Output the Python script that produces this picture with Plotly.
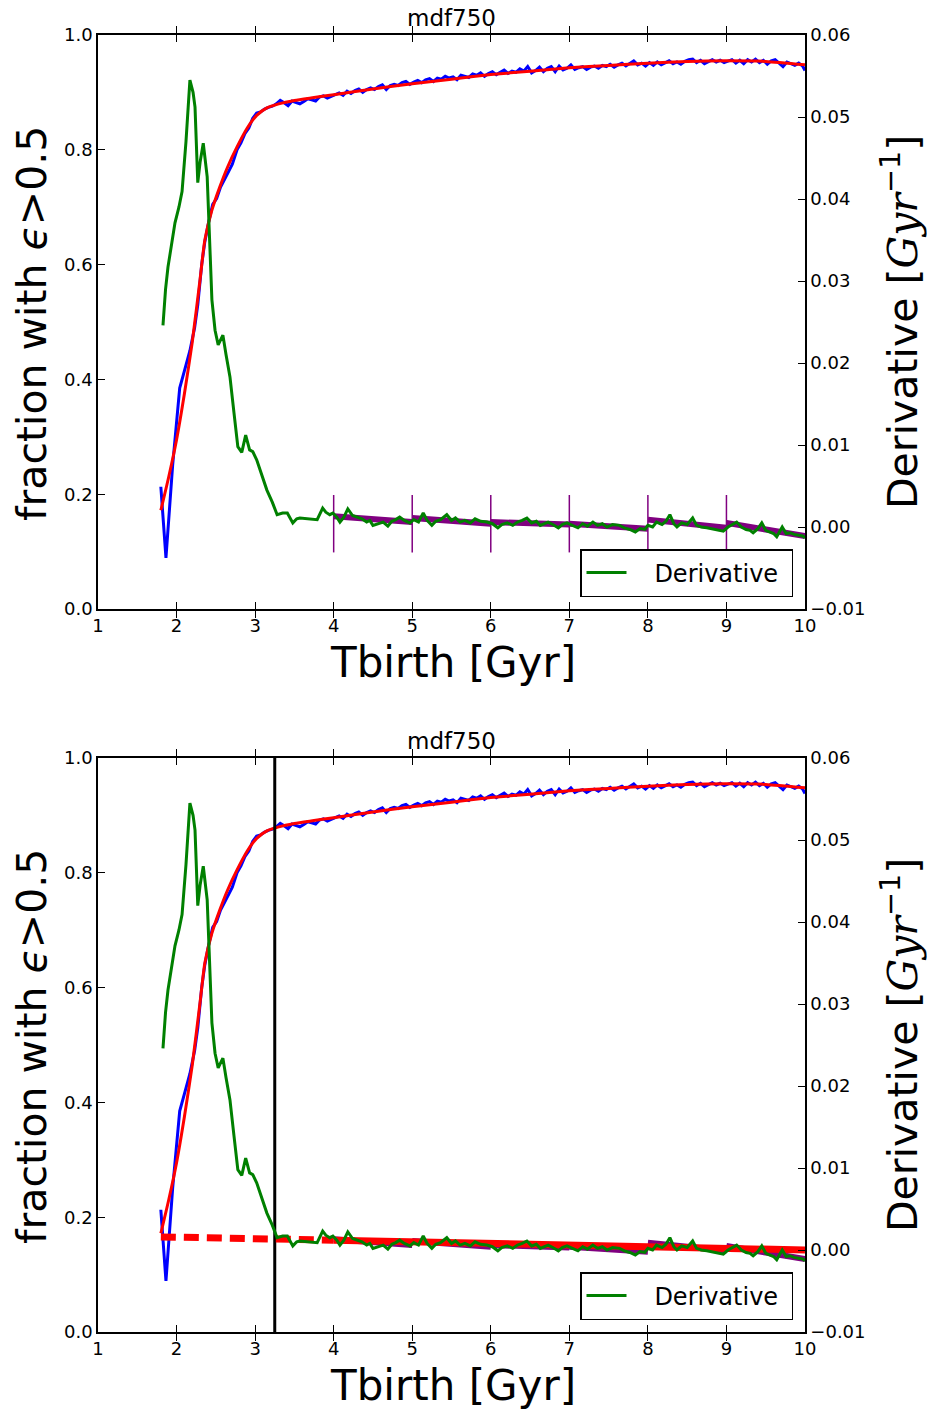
import plotly.graph_objects as go

# ---------------- data ----------------
frac_x = [1.80, 1.865, 1.95, 2.04, 2.10, 2.17, 2.23, 2.27, 2.32, 2.36, 2.41, 2.46, 2.51, 2.56, 2.61,
          2.66, 2.71, 2.77, 2.82, 2.87, 2.92, 2.97, 3.02, 3.07, 3.12, 3.17, 3.22, 3.27, 3.32, 3.37,
          3.42, 3.47, 3.52, 3.57, 3.62, 3.67, 3.72, 3.77, 3.82, 3.87, 3.92, 3.97, 4.02, 4.07, 4.12,
          4.17, 4.22, 4.27, 4.32, 4.37, 4.42, 4.47, 4.52, 4.57, 4.62, 4.67, 4.72, 4.77, 4.82, 4.87,
          4.92, 4.97, 5.02, 5.07, 5.12, 5.17, 5.22, 5.27, 5.32, 5.37, 5.42, 5.47, 5.52, 5.57, 5.62,
          5.67, 5.72, 5.77, 5.82, 5.87, 5.92, 5.97, 6.02, 6.07, 6.12, 6.17, 6.22, 6.27, 6.32, 6.37,
          6.42, 6.47, 6.52, 6.57, 6.62, 6.67, 6.72, 6.77, 6.82, 6.87, 6.92, 6.97, 7.02, 7.07, 7.12,
          7.17, 7.22, 7.27, 7.32, 7.37, 7.42, 7.47, 7.52, 7.57, 7.62, 7.67, 7.72, 7.77, 7.82, 7.87,
          7.92, 7.97, 8.02, 8.07, 8.12, 8.17, 8.22, 8.27, 8.32, 8.37, 8.42, 8.47, 8.52, 8.57, 8.62,
          8.67, 8.72, 8.77, 8.82, 8.87, 8.92, 8.97, 9.02, 9.07, 9.12, 9.17, 9.22, 9.27, 9.32, 9.37,
          9.42, 9.47, 9.52, 9.57, 9.62, 9.67, 9.72, 9.77, 9.82, 9.87, 9.92, 9.97, 10.0]
frac_y = [0.213, 0.089, 0.250, 0.385, 0.415, 0.450, 0.490, 0.530, 0.600, 0.640, 0.675, 0.705, 0.715, 0.735, 0.748,
          0.762, 0.775, 0.800, 0.812, 0.828, 0.838, 0.855, 0.864, 0.866, 0.871, 0.874, 0.876, 0.880, 0.886, 0.882,
          0.877, 0.885, 0.883, 0.880, 0.884, 0.889, 0.887, 0.885, 0.892, 0.894, 0.890, 0.893, 0.897, 0.899, 0.895,
          0.902, 0.898, 0.903, 0.906, 0.900, 0.905, 0.908, 0.905, 0.910, 0.913, 0.905, 0.912, 0.914, 0.912, 0.917,
          0.919, 0.914, 0.918, 0.921, 0.917, 0.922, 0.924, 0.919, 0.925, 0.923, 0.928, 0.925, 0.927, 0.922, 0.930,
          0.928, 0.926, 0.932, 0.930, 0.934, 0.928, 0.933, 0.936, 0.931, 0.935, 0.939, 0.933, 0.937, 0.935, 0.941,
          0.937, 0.945, 0.934, 0.938, 0.944, 0.936, 0.942, 0.945, 0.936, 0.946, 0.939, 0.942, 0.948, 0.940, 0.943,
          0.945, 0.940, 0.944, 0.946, 0.942, 0.947, 0.945, 0.949, 0.944, 0.948, 0.951, 0.946, 0.950, 0.955, 0.948,
          0.951, 0.946, 0.952, 0.947, 0.953, 0.948, 0.951, 0.955, 0.950, 0.953, 0.949, 0.954, 0.957, 0.958, 0.952,
          0.956, 0.950, 0.954, 0.957, 0.953, 0.956, 0.952, 0.955, 0.957, 0.951, 0.956, 0.950, 0.957, 0.953, 0.958,
          0.952, 0.956, 0.949, 0.955, 0.957, 0.951, 0.945, 0.953, 0.950, 0.947, 0.951, 0.946, 0.938]

fit_x = [1.8, 1.9, 2.0, 2.1, 2.2, 2.3, 2.36, 2.45, 2.55, 2.65, 2.77, 2.9, 3.02, 3.15, 3.3,
         3.5, 3.75, 4.0, 4.5, 5.0, 5.5, 6.0, 6.5, 7.0, 7.5, 8.0, 8.5, 9.0, 9.5, 10.0]
fit_y = [0.172, 0.230, 0.295, 0.375, 0.465, 0.575, 0.643, 0.695, 0.735, 0.770, 0.805, 0.838, 0.860, 0.873, 0.880,
         0.886, 0.891, 0.896, 0.906, 0.915, 0.923, 0.931, 0.937, 0.943, 0.947, 0.951, 0.954, 0.955, 0.954, 0.948]

deriv_x = [1.827, 1.86, 1.891, 1.94, 1.98, 2.03, 2.07, 2.12, 2.17, 2.21, 2.235, 2.27, 2.30, 2.34, 2.39,
           2.45, 2.49, 2.53, 2.59, 2.63, 2.68, 2.73, 2.78, 2.83, 2.88, 2.93, 2.97, 3.02, 3.08, 3.15,
           3.22, 3.28, 3.35, 3.41, 3.48, 3.53, 3.57, 3.65, 3.72, 3.79, 3.86, 3.90, 3.95, 3.99, 4.04,
           4.08, 4.13, 4.18, 4.24, 4.31, 4.36, 4.42, 4.46, 4.50, 4.56, 4.63, 4.69, 4.74, 4.79, 4.84,
           4.90, 4.97, 5.02, 5.08, 5.14, 5.19, 5.25, 5.30, 5.36, 5.44, 5.50, 5.55, 5.61, 5.67, 5.74,
           5.80, 5.87, 5.95, 6.02, 6.09, 6.14, 6.21, 6.28, 6.34, 6.40, 6.46, 6.52, 6.58, 6.63, 6.68,
           6.73, 6.79, 6.86, 6.91, 6.97, 7.04, 7.11, 7.17, 7.23, 7.30, 7.36, 7.42, 7.48, 7.55, 7.64,
           7.70, 7.77, 7.84, 7.90, 7.96, 8.00, 8.06, 8.11, 8.18, 8.23, 8.28, 8.33, 8.37, 8.43, 8.50,
           8.57, 8.62, 8.68, 8.75, 8.81, 8.88, 8.96, 9.02, 9.08, 9.13, 9.19, 9.25, 9.30, 9.34, 9.40,
           9.45, 9.50, 9.56, 9.60, 9.64, 9.71, 9.76, 9.81, 9.86, 9.92, 9.97, 10.0]
deriv_y = [0.0246, 0.0290, 0.0317, 0.0345, 0.0371, 0.0390, 0.0409, 0.0470, 0.0545, 0.0530, 0.0512, 0.0420, 0.0445, 0.0468, 0.0427,
           0.0277, 0.0240, 0.0222, 0.0234, 0.0210, 0.0183, 0.0140, 0.0098, 0.0091, 0.0112, 0.0094, 0.0092, 0.0082, 0.0065, 0.0045,
           0.0030, 0.0015, 0.0017, 0.0017, 0.0005, 0.0010, 0.0011, 0.0010, 0.0010, 0.0009, 0.0023, 0.0018, 0.0015, 0.0017, 0.0012,
           0.0006, 0.0012, 0.0022, 0.0014, 0.0012, 0.0010, 0.0006, 0.0008, 0.0002, 0.0004, 0.0006, 0.0001, 0.0007, 0.0009, 0.0012,
           0.0008, 0.0005, 0.0009, 0.0006, 0.0017, 0.0008, 0.0002, 0.0007, 0.0009, 0.0015, 0.0008, 0.0011, 0.0006, 0.0008, 0.0005,
           0.0010, 0.0007, 0.0006, 0.0004, -0.0001, 0.0003, 0.0005, 0.0002, 0.0006, 0.0008, 0.0011, 0.0005, 0.0007, 0.0002, 0.0004,
           0.0006, 0.0003, -0.0001, 0.0003, 0.0005, 0.0002, -0.0001, 0.0004, 0.0001, 0.0006, 0.0002, 0.0004, 0.0000, 0.0003, 0.0002,
           -0.0001, -0.0003, -0.0006, -0.0002, -0.0003, 0.0002, 0.0000, 0.0006, 0.0003, 0.0007, 0.0015, 0.0004, 0.0000, 0.0005, 0.0003,
           0.0011, 0.0002, 0.0000, -0.0001, -0.0002, -0.0003, -0.0005, 0.0000, 0.0003, 0.0006, 0.0000, -0.0003, -0.0004, -0.0007, -0.0002,
           0.0005, -0.0004, -0.0006, -0.0008, -0.0012, 0.0000, -0.0008, -0.0007, -0.0009, -0.0010, -0.0011, -0.0013]

# binned linear fits of the derivative (purple), one segment per bin
bin_start = [4, 5, 6, 7, 8, 9]
bin_end = [5, 6, 7, 8, 9, 10]
bin_left_val = [0.0013, 0.0011, 0.0006, 0.0004, 0.0009, 0.0005]
bin_right_val = [0.0006, 0.0004, 0.0003, -0.0002, -0.0001, -0.0011]
err_center = [0.0004, 0.0004, 0.0004, 0.0004, 0.0004, 0.0004]
err_size = [0.0035, 0.0035, 0.0035, 0.0035, 0.0035, 0.0035]

# linear fit of the plateau, extrapolated back (bottom panel)
extrap_x = [1.8, 4.0]
extrap_y = [0.0016, 0.0012]
plateau_x = [4.0, 10.0]
plateau_y = [0.0012, 0.0000]

t_transition = 3.25

x_ticks = [1, 2, 3, 4, 5, 6, 7, 8, 9, 10]
left_ticks = [0.0, 0.2, 0.4, 0.6, 0.8, 1.0]
right_ticks = [-0.01, 0.0, 0.01, 0.02, 0.03, 0.04, 0.05, 0.06]

# ---------------- styling ----------------
W, H = 927, 1414
FONT = "DejaVu Sans"
BLUE = "#0000ff"
RED = "#ff0000"
GREEN = "#008000"
PURPLE = "#800080"

def px_x(p):
    return p / W

def px_y(p):
    return 1 - p / H

xdom = [px_x(98), px_x(805)]
ydom_top = [px_y(609), px_y(35)]
ydom_bot = [px_y(1332), px_y(758)]

fig = go.Figure()

def purple_band(axes):
    bx, by = [], []
    for s, e, a, b in zip(bin_start, bin_end, bin_left_val, bin_right_val):
        bx += [s, e, None]
        by += [a, b, None]
    fig.add_trace(go.Scatter(x=bx, y=by, mode="lines", xaxis=axes[0], yaxis=axes[1],
                             line=dict(color=PURPLE, width=6), showlegend=False, hoverinfo="skip"))

NB = "\u00a0"
panels = [("x", "y", "y2", "legend", True), ("x2", "y3", "y4", "legend2", False)]
for xa, yl, yr, leg, top in panels:
    fig.add_trace(go.Scatter(x=frac_x, y=frac_y, mode="lines", xaxis=xa, yaxis=yl,
                             line=dict(color=BLUE, width=3), showlegend=False))
    fig.add_trace(go.Scatter(x=fit_x, y=fit_y, mode="lines", xaxis=xa, yaxis=yl,
                             line=dict(color=RED, width=3, shape="spline", smoothing=0.6), showlegend=False))
    if not top:
        fig.add_trace(go.Scatter(x=[t_transition, t_transition], y=[0, 1], mode="lines", xaxis=xa, yaxis=yl,
                                 line=dict(color="black", width=3), showlegend=False))
    purple_band((xa, yr))
    if top:
        fig.add_trace(go.Scatter(x=bin_start, y=err_center, mode="markers", xaxis=xa, yaxis=yr,
                                 marker=dict(size=1, color=PURPLE, opacity=0),
                                 error_y=dict(type="data", array=err_size, color=PURPLE,
                                              thickness=1.5, width=0),
                                 showlegend=False))
    else:
        fig.add_trace(go.Scatter(x=extrap_x, y=extrap_y, mode="lines", xaxis=xa, yaxis=yr,
                                 line=dict(color=RED, width=7, dash="15px,8px"), showlegend=False))
        fig.add_trace(go.Scatter(x=plateau_x, y=plateau_y, mode="lines", xaxis=xa, yaxis=yr,
                                 line=dict(color=RED, width=7), showlegend=False))
    fig.add_trace(go.Scatter(x=deriv_x, y=deriv_y, mode="lines", xaxis=xa, yaxis=yr,
                             line=dict(color=GREEN, width=3), name=NB * 3 + "Derivative" + NB,
                             showlegend=True, legend=leg))

axis_common = dict(showline=True, linecolor="black", linewidth=1.5, ticks="inside",
                   ticklen=7, tickwidth=1, tickcolor="black", showgrid=False, zeroline=False,
                   automargin=False,
                   tickfont=dict(family=FONT, size=18, color="black"))

xcfg = dict(axis_common, range=[1, 10], tickvals=x_ticks, ticktext=[str(v) for v in x_ticks],
            mirror="allticks", domain=xdom)
ylcfg = dict(axis_common, range=[0, 1], tickvals=left_ticks,
             ticktext=["%.1f" % v for v in left_ticks])
yrcfg = dict(axis_common, range=[-0.01, 0.06], tickvals=right_ticks,
             ticktext=[("\u2212%.2f" % -v) if v < 0 else "%.2f" % v for v in right_ticks],
             side="right")

leg_common = dict(xanchor="right", yanchor="bottom", bgcolor="white", bordercolor="black",
                  borderwidth=1.5, font=dict(family=FONT, size=24, color="black"),
                  itemwidth=40, tracegroupgap=0)

fig.update_layout(
    template="none",
    width=W, height=H, margin=dict(l=0, r=0, t=0, b=0, pad=0),
    paper_bgcolor="white", plot_bgcolor="white",
    xaxis=dict(xcfg, anchor="y"),
    xaxis2=dict(xcfg, anchor="y3"),
    yaxis=dict(ylcfg, domain=ydom_top, anchor="x"),
    yaxis2=dict(yrcfg, overlaying="y", anchor="x"),
    yaxis3=dict(ylcfg, domain=ydom_bot, anchor="x2"),
    yaxis4=dict(yrcfg, overlaying="y3", anchor="x2"),
    legend=dict(leg_common, x=px_x(793), y=px_y(597)),
    legend2=dict(leg_common, x=px_x(793), y=px_y(1320)),
    font=dict(family=FONT, color="black"),
)

ann = []
def add_text(text, xp, yp, size, angle=0):
    ann.append(dict(text=text, x=px_x(xp), y=px_y(yp), xref="paper", yref="paper",
                    xanchor="center", yanchor="middle", showarrow=False, textangle=angle,
                    font=dict(family=FONT, size=size, color="black")))

for off in (0, 723):
    add_text("mdf750", 451, 18 + off, 23)
    add_text("Tbirth [Gyr]", 453, 662 + off, 42)
    add_text("fraction with <i>\u03f5</i>>0.5", 32, 324 + off, 41, -90)
    add_text("Derivative [<i><span style='font-family:DejaVu Serif'>Gyr</span></i><sup>\u22121</sup>]",
             900, 322 + off, 41, -90)
fig.update_layout(annotations=ann)

fig.write_html("out.html",
               post_script="document.body.style.margin='0';document.documentElement.style.overflow='hidden';")
